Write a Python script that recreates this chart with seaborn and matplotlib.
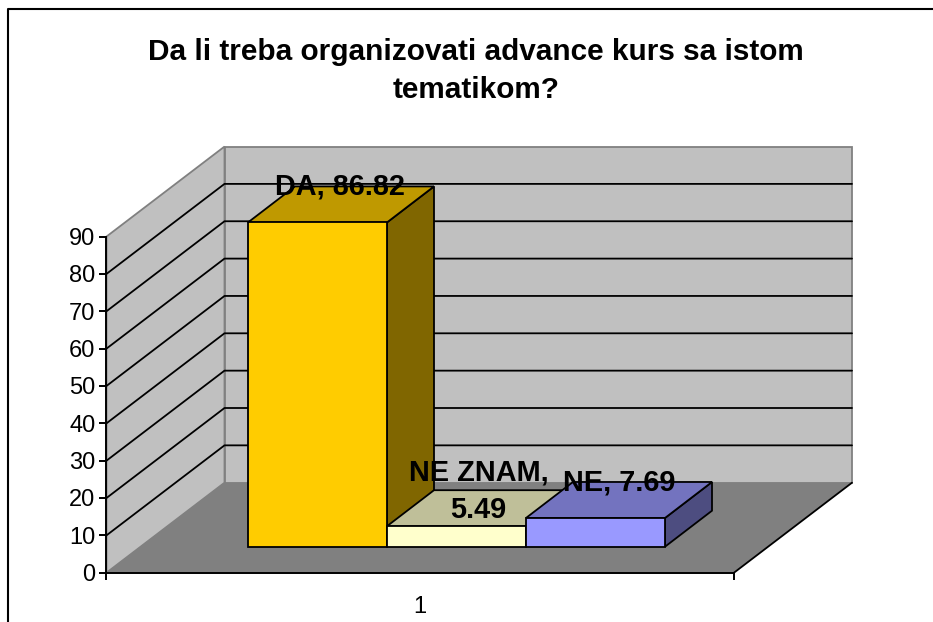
import matplotlib
matplotlib.use("Agg")
import matplotlib.pyplot as plt
import pandas as pd
import seaborn as sns
from matplotlib.lines import Line2D
from matplotlib.patches import Polygon

title = "Da li treba organizovati advance kurs sa istom\ntematikom?"
categories = ["DA", "NE ZNAM", "NE"]
values = [86.82, 5.49, 7.69]
front_colors = ["#FFCC00", "#FFFFCC", "#9999FF"]
top_colors = ["#BF9900", "#BFBF99", "#7373BF"]
side_colors = ["#806600", "#808066", "#4D4D80"]
y_ticks = list(range(0, 100, 10))

# layout in pixels
W, H = 933, 622
Y0, PX_PER_UNIT = 572.7, 3.735
BAR_W, BAR_LEFT = 139, 248
WALL_DX, WALL_DY = 118, 90
BAR_DX, BAR_DY = 47, 36
LEFT, RIGHT = 106.5, 734
LW = 1.3


def xd(px):
    return (px - BAR_LEFT) / BAR_W - 0.5


def yd(py):
    return (Y0 - py) / PX_PER_UNIT


sns.set_style("white")
plt.rcParams["font.family"] = ["Liberation Sans", "DejaVu Sans"]
plt.rcParams["text.color"] = "black"
plt.rcParams["xtick.color"] = "black"
plt.rcParams["ytick.color"] = "black"

fig = plt.figure(figsize=(W / 100, H / 100), dpi=100)
ax = fig.add_axes([0, 0, 1, 1])
ax.patch.set_alpha(0)

df = pd.DataFrame({"odgovor": categories, "procenat": values})
lift = yd(546.7)
sns.barplot(data=df, x="odgovor", y="procenat", hue="odgovor", order=categories,
            hue_order=categories, palette=front_colors, saturation=1, width=1, dodge=False,
            legend=False, bottom=lift, edgecolor="black", linewidth=LW, zorder=3, ax=ax)
ax.set_xlim(xd(0), xd(W))
ax.set_ylim(yd(H), yd(0))

ddx, ddy = WALL_DX / BAR_W, WALL_DY / PX_PER_UNIT
xl, xr = xd(LEFT), xd(RIGHT)
top_v = y_ticks[-1]

# walls and floor
ax.add_patch(Polygon([(xl, 0), (xl + ddx, ddy), (xl + ddx, top_v + ddy), (xl, top_v)],
                     fc="#C0C0C0", ec="#808080", lw=LW, zorder=0.5))
ax.add_patch(Polygon([(xl + ddx, ddy), (xr + ddx, ddy), (xr + ddx, top_v + ddy), (xl + ddx, top_v + ddy)],
                     fc="#C0C0C0", ec="#808080", lw=LW, zorder=0.5))
ax.add_patch(Polygon([(xl, 0), (xr, 0), (xr + ddx, ddy), (xl + ddx, ddy)],
                     fc="#808080", ec="none", zorder=0.6))
ax.plot([xr, xr + ddx], [0, ddy], color="black", lw=LW, zorder=0.7)
for v in y_ticks[1:-1]:
    ax.plot([xl, xl + ddx, xr + ddx], [v, v + ddy, v + ddy], color="black", lw=LW, zorder=0.7)

# top and side faces of the bars
bdx, bdy = BAR_DX / BAR_W, BAR_DY / PX_PER_UNIT
bars = [p for p in ax.patches if p.get_zorder() == 3]
for i, bar in enumerate(bars):
    x0, x1 = bar.get_x(), bar.get_x() + bar.get_width()
    y0, y1 = bar.get_y(), bar.get_y() + bar.get_height()
    ax.add_patch(Polygon([(x1, y0), (x1 + bdx, y0 + bdy), (x1 + bdx, y1 + bdy), (x1, y1)],
                         fc=side_colors[i], ec="black", lw=LW, zorder=1 + i * 0.1))
    ax.add_patch(Polygon([(x0, y1), (x1, y1), (x1 + bdx, y1 + bdy), (x0 + bdx, y1 + bdy)],
                         fc=top_colors[i], ec="black", lw=LW, zorder=1.05 + i * 0.1))

# axes
sns.despine(ax=ax, top=True, right=True, left=False, bottom=False)
ax.spines["left"].set_position(("data", xl))
ax.spines["bottom"].set_position(("data", 0))
ax.spines["left"].set_bounds(0, top_v)
ax.spines["bottom"].set_bounds(xl, xr)
for s in ["left", "bottom"]:
    ax.spines[s].set_linewidth(1.4)
    ax.spines[s].set_color("black")
    ax.spines[s].set_zorder(2)
ax.set_yticks(y_ticks)
ax.set_xticks([xl, xr], ["", ""])
ax.set_xticks([xd(420)], ["1"], minor=True)
ax.tick_params(axis="y", left=True, length=5, width=1.4, color="black", labelcolor="black", labelsize=17, pad=3)
ax.tick_params(axis="x", which="major", bottom=True, length=5, width=1.4, color="black")
ax.tick_params(axis="x", which="minor", bottom=False, labelbottom=True, labelcolor="black", labelsize=17, pad=15)
ax.set_xlabel("")
ax.set_ylabel("")

# data labels
label_font = dict(fontsize=20.8, fontweight="bold", color="black", ha="center", va="center", zorder=5, linespacing=1.45)
ax.text(xd(340), yd(186.5), f"{categories[0]}, {values[0]:.2f}", **label_font)
ax.text(xd(478.5), yd(491), f"{categories[1]},\n{values[1]:.2f}", **label_font)
ax.text(xd(619), yd(482.5), f"{categories[2]}, {values[2]:.2f}", **label_font)

fig.text(476 / W, 1 - 71 / H, title, fontsize=21.4, fontweight="bold", color="black",
         ha="center", va="center", linespacing=1.45)

# chart area border
fig.add_artist(Line2D([7.7 / W, 7.7 / W, 1], [0, 1 - 9 / H, 1 - 9 / H], color="black", lw=1.5))

fig.savefig("out.png", dpi=100)
